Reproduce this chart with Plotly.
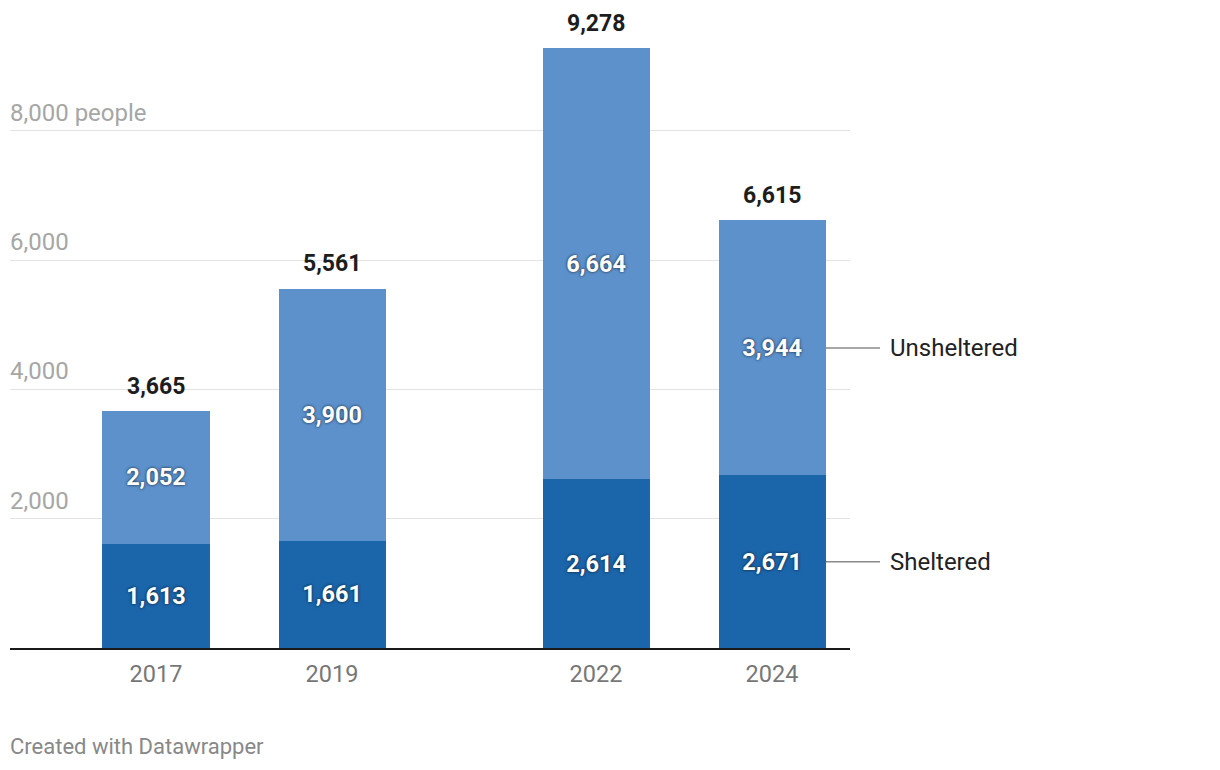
import plotly.graph_objects as go

years = [2017, 2019, 2022, 2024]
year_labels = ["2017", "2019", "2022", "2024"]
sheltered = [1613, 1661, 2614, 2671]
unsheltered = [2052, 3900, 6664, 3944]
totals = [3665, 5561, 9278, 6615]
y_ticks = [2000, 4000, 6000, 8000]
y_tick_labels = ["2,000", "4,000", "6,000", "8,000 people"]

DARK = "#1b65aa"
LIGHT = "#5c91cc"
FONT = "Roboto"
BAR_W = 1.216

# page body has 8px margin; figure sized to fit the window
W, H = 1204, 754
L, R, T, B = 2, 362, 0, 114

fig = go.Figure()
shadow = "0px 0px 3px rgba(0,0,0,0.8)"
fig.add_trace(go.Bar(
    x=years, y=sheltered, width=BAR_W, marker=dict(color=DARK, line=dict(width=0)),
    text=[f"{v:,}" for v in sheltered], textposition="inside", insidetextanchor="middle",
    textangle=0, textfont=dict(family=FONT, size=23.5, color="white", weight="bold", shadow=shadow),
    hoverinfo="skip", name="Sheltered"))
fig.add_trace(go.Bar(
    x=years, y=unsheltered, width=BAR_W, marker=dict(color=LIGHT, line=dict(width=0)),
    text=[f"{v:,}" for v in unsheltered], textposition="inside", insidetextanchor="middle",
    textangle=0, textfont=dict(family=FONT, size=23.5, color="white", weight="bold", shadow=shadow),
    hoverinfo="skip", name="Unsheltered"))

annotations = []
for x, t in zip(years, totals):
    annotations.append(dict(x=x, y=t, xref="x", yref="y", text=f"{t:,}", showarrow=False,
                            yanchor="middle", yshift=25,
                            font=dict(family=FONT, size=23, color="#1d1d1d", weight="bold")))
for v, lab in zip(y_ticks, y_tick_labels):
    annotations.append(dict(x=0, y=v, xref="paper", yref="y", text=lab, showarrow=False,
                            xanchor="left", yanchor="middle", yshift=18, xshift=-2,
                            font=dict(family=FONT, size=24, color="#a6a6a6")))

# series labels on the right, aligned to the last bar's segments
shapes = []
last_s = sheltered[-1]
last_u = unsheltered[-1]
label_pos = [("Sheltered", last_s / 2), ("Unsheltered", last_s + last_u / 2)]
pw = W - L - R
for name, yv in label_pos:
    annotations.append(dict(x=(890 - 10) / pw, y=yv, xref="paper", yref="y", text=name,
                            showarrow=False, xanchor="left", yanchor="middle", xshift=-2,
                            font=dict(family=FONT, size=24, color="#222222")))
    shapes.append(dict(type="line", xref="paper", yref="y", x0=(826 - 10) / pw, x1=(880 - 10) / pw,
                       y0=yv, y1=yv, line=dict(color="#8a8a8a", width=1.5)))

annotations.append(dict(x=0, y=0, xref="paper", yref="paper", text="Created with Datawrapper",
                        showarrow=False, xanchor="left", yanchor="middle", yshift=-98, xshift=-2,
                        font=dict(family=FONT, size=22, color="#888888")))

fig.update_layout(
    barmode="stack", width=W, height=H,
    margin=dict(l=L, r=R, t=T, b=B),
    paper_bgcolor="white", plot_bgcolor="white", showlegend=False,
    font=dict(family=FONT),
    annotations=annotations, shapes=shapes,
    xaxis=dict(range=[2015.341, 2024.886], tickvals=years, ticktext=year_labels,
               showgrid=False, zeroline=False, showline=True, linecolor="#1a1a1a", linewidth=2,
               ticks="", ticklabelstandoff=4,
               tickfont=dict(family=FONT, size=23.5, color="#777777"), fixedrange=True),
    yaxis=dict(range=[0, 9903], tickvals=y_ticks, showticklabels=False, showgrid=True,
               gridcolor="#e3e3e3", gridwidth=1, zeroline=False, showline=False, fixedrange=True),
)
fig.write_html("out.html")
